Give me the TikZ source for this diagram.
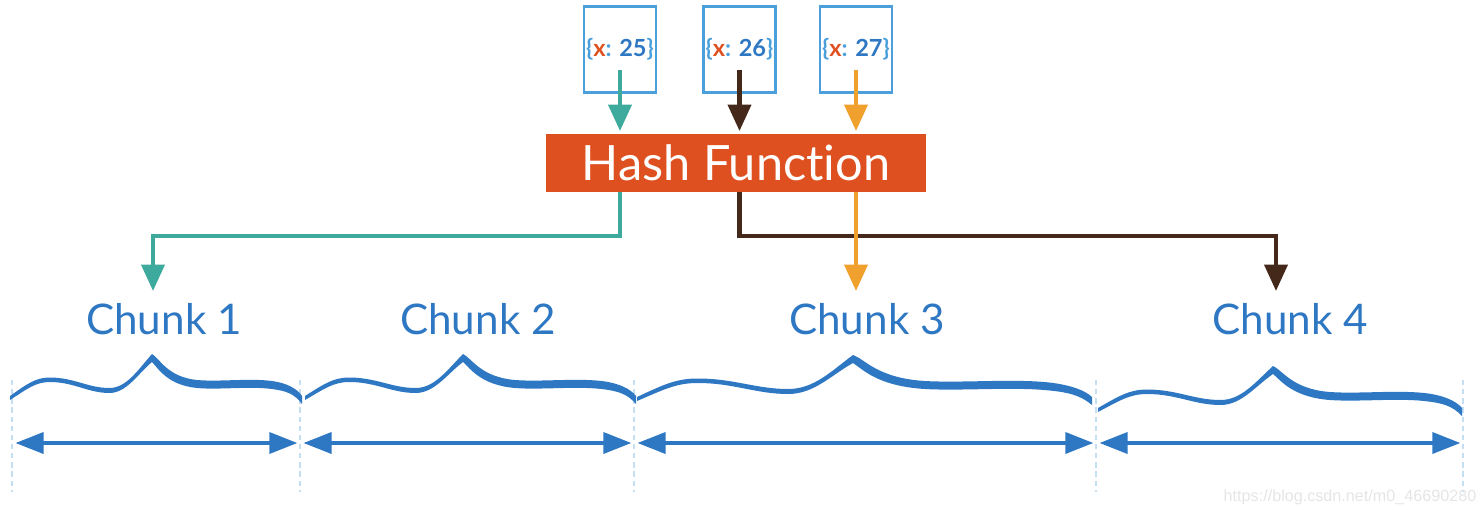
\documentclass[tikz,border=0pt]{standalone}
\usepackage{fontspec}
\setmainfont[Ligatures=NoCommon]{Lato}
\newfontfamily\markfont{Liberation Sans}
\usetikzlibrary{arrows.meta}
\definecolor{hashred}{HTML}{DF5020}
\definecolor{chunkblue}{HTML}{2E77C3}
\definecolor{boxblue}{HTML}{4BA0DC}
\definecolor{dividerblue}{HTML}{C5DFF2}
\definecolor{tealline}{HTML}{3EAA9E}
\definecolor{brownline}{HTML}{44291A}
\definecolor{orangeline}{HTML}{EFA02D}
\newcommand{\keylabel}[1]{\raisebox{1.5pt}{{\color{boxblue}\{}{\color{hashred}x}{\color{boxblue}:} #1{\color{boxblue}\}}}}
\tikzset{
  keybox/.style={draw=boxblue, line width=1.4pt, minimum width=1.44cm, minimum height=1.72cm,
    inner sep=0pt, text=chunkblue, font=\fontsize{13.4}{15}\bfseries\selectfont},
  hashbox/.style={fill=hashred, minimum width=7.6cm, minimum height=1.16cm, inner sep=0pt,
    text=white, font=\fontsize{27.7}{32}\selectfont},
  chunklabel/.style={text=chunkblue, font=\fontsize{24}{28}\selectfont, inner sep=0pt},
  flow/.style={line width=2.4pt, -{Triangle[length=15pt,width=13pt]}},
  span/.style={chunkblue, line width=2pt, {Triangle[length=16pt,width=12pt]}-{Triangle[length=16pt,width=12pt]}},
  divider/.style={dividerblue, line width=1.5pt, dash pattern=on 3pt off 2.2pt}
}
\begin{document}
\begin{tikzpicture}[x=0.02cm, y=-0.02cm]
  \useasboundingbox (0,0) rectangle (1482,514);
  % Keys and hash
  \node[keybox] (key25) at (620,49.5) {\keylabel{25}};
  \node[keybox] (key26) at (739.5,49.5) {\keylabel{26}};
  \node[keybox] (key27) at (856,49.5) {\keylabel{27}};
  \node[hashbox] (hash) at (736,163) {Hash Function};
  % Arrow starts and ends
  \coordinate (start25) at (620,70);
  \coordinate (start26) at (739.5,70);
  \coordinate (start27) at (856,70);
  \coordinate (in1) at (153,291);
  \coordinate (in3) at (856,291);
  \coordinate (in4) at (1276,291);
  % Chunk names
  \node[chunklabel] (chunk1) at (164,319) {Chunk 1};
  \node[chunklabel] (chunk2) at (478,319) {Chunk 2};
  \node[chunklabel] (chunk3) at (867,319) {Chunk 3};
  \node[chunklabel] (chunk4) at (1290,319) {Chunk 4};
  % Arrows into the hash
  \draw[flow, tealline, shorten >=1.5pt] (start25) -- (start25 |- hash.north);
  \draw[flow, brownline, shorten >=1.5pt] (start26) -- (start26 |- hash.north);
  \draw[flow, orangeline, shorten >=1.5pt] (start27) -- (start27 |- hash.north);
  % Arrows out of the hash
  \draw[flow, tealline] (start25 |- hash.south) -- (start25 |- 0,236) -- (in1 |- 0,236) -- (in1);
  \draw[flow, brownline] (start26 |- hash.south) -- (start26 |- 0,236) -- (in4 |- 0,236) -- (in4);
  \draw[flow, orangeline] (start27 |- hash.south) -- (in3);
  % Dividers
  \foreach \i/\x in {0/12, 1/300, 2/634, 3/1096, 4/1463} {
    \coordinate (top\i) at (\x,380);
    \coordinate (mid\i) at (\x,443);
    \draw[divider] (top\i) -- (\x,492);
  }
  % Spans
  \foreach \a/\b in {0/1, 1/2, 2/3, 3/4}
    \draw[span, shorten <=2pt, shorten >=1.5pt] (mid\a) -- (mid\b);
  % Braces
  \foreach \xl/\xp/\xr/\dy in {10/152/302/0, 305/463/636/0, 637/853/1092/1, 1098/1273/1462/12} {
    \pgfmathsetmacro{\lw}{\xp-\xl}
    \pgfmathsetmacro{\rw}{\xr-\xp}
    \begin{scope}[shift={(\xp,\dy)}]
      \fill[chunkblue] (-\lw,396)
        .. controls (-.88*\lw,384) and (-.82*\lw,377.5) .. (-.72*\lw,377.5)
        .. controls (-.55*\lw,377.5) and (-.45*\lw,388) .. (-.3*\lw,388)
        .. controls (-.18*\lw,388) and (-.1*\lw,370) .. (0,354)
        .. controls (.05*\rw,358) and (.1*\rw,377) .. (.3*\rw,380)
        .. controls (.45*\rw,382) and (.65*\rw,378) .. (.8*\rw,381)
        .. controls (.9*\rw,383) and (.97*\rw,389) .. (\rw,396)
        -- (\rw,404)
        .. controls (.95*\rw,394) and (.9*\rw,391) .. (.8*\rw,389)
        .. controls (.65*\rw,386) and (.45*\rw,390) .. (.3*\rw,388)
        .. controls (.1*\rw,385) and (.04*\rw,368) .. (0,362)
        .. controls (-.1*\lw,374) and (-.18*\lw,393) .. (-.3*\lw,393)
        .. controls (-.45*\lw,393) and (-.55*\lw,382) .. (-.72*\lw,382)
        .. controls (-.82*\lw,382) and (-.88*\lw,389) .. (-\lw,400)
        -- cycle;
    \end{scope}
  }
  % Site mark
  \node[text=black!10, font=\markfont\fontsize{9.2}{11}\selectfont, inner sep=0pt] (site) at (1350,497) {https://blog.csdn.net/m0\_46690280};
\end{tikzpicture}
\end{document}
